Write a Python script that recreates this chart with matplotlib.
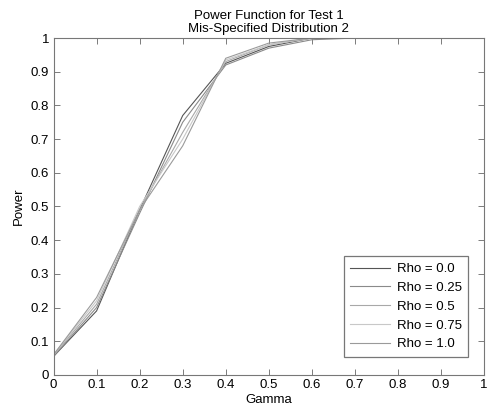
import matplotlib
matplotlib.use("Agg")
import matplotlib.pyplot as plt
import numpy as np

plt.rcParams['font.family'] = ['Liberation Sans', 'DejaVu Sans']

gamma = [0.0, 0.1, 0.2, 0.3, 0.4, 0.5, 0.6, 0.7, 0.8, 0.9, 1.0]
rho_labels = ["Rho = 0.0", "Rho = 0.25", "Rho = 0.5", "Rho = 0.75", "Rho = 1.0"]
power_rho_0 = [0.055, 0.19, 0.49, 0.77, 0.925, 0.975, 1.0, 1.0, 1.0, 1.0, 1.0]
power_rho_025 = [0.055, 0.20, 0.48, 0.75, 0.92, 0.97, 0.995, 1.0, 1.0, 1.0, 1.0]
power_rho_05 = [0.058, 0.21, 0.49, 0.72, 0.93, 0.98, 1.0, 1.0, 1.0, 1.0, 1.0]
power_rho_075 = [0.06, 0.22, 0.50, 0.70, 0.935, 0.98, 1.0, 1.0, 1.0, 1.0, 1.0]
power_rho_1 = [0.06, 0.23, 0.49, 0.68, 0.94, 0.985, 1.0, 1.0, 1.0, 1.0, 1.0]
series = [power_rho_0, power_rho_025, power_rho_05, power_rho_075, power_rho_1]
colors = ["#555555", "#8a8a8a", "#a8a8a8", "#c8c8c8", "#9a9a9a"]

fs = 9.5
fig = plt.figure(figsize=(4.91, 4.18), dpi=100)
ax = fig.add_axes([0.109, 0.103, 0.877, 0.806])
for vals, lab, c in zip(series, rho_labels, colors):
    ax.plot(gamma, vals, color=c, lw=0.8, label=lab)

ax.set_xlim(0, 1)
ax.set_ylim(0, 1)
ax.set_xticks(np.arange(0, 1.01, 0.1))
ax.set_yticks(np.arange(0, 1.01, 0.1))
ax.set_xticklabels(["0", "0.1", "0.2", "0.3", "0.4", "0.5", "0.6", "0.7", "0.8", "0.9", "1"])
ax.set_yticklabels(["0", "0.1", "0.2", "0.3", "0.4", "0.5", "0.6", "0.7", "0.8", "0.9", "1"])
ax.tick_params(direction='in', top=True, right=True, length=4, width=0.6,
               color='#666666', labelsize=fs, pad=3)
for s in ax.spines.values():
    s.set_color('#777777')
    s.set_linewidth(0.8)
ax.set_xlabel("Gamma", fontsize=fs, labelpad=2)
ax.set_ylabel("Power", fontsize=fs, labelpad=4)
ax.set_title("Power Function for Test 1\nMis-Specified Distribution 2", fontsize=fs,
             linespacing=1.2, pad=4)

leg = ax.legend(loc='lower right', bbox_to_anchor=(0.963, 0.053), fontsize=fs,
                frameon=True, fancybox=False, borderpad=0.5, labelspacing=0.5,
                handlelength=3.0, handletextpad=0.5, borderaxespad=0)
leg.get_frame().set_edgecolor('#555555')
leg.get_frame().set_linewidth(0.9)

fig.savefig("out.png", dpi=100)
